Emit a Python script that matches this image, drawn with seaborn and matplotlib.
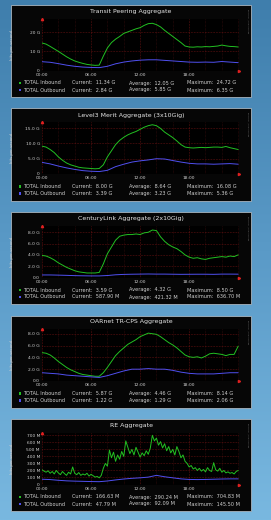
import numpy as np
import matplotlib.pyplot as plt
import seaborn as sns
from matplotlib.patches import Rectangle
from matplotlib.colors import LinearSegmentedColormap
from matplotlib.ticker import MultipleLocator

sns.set_style("dark")
plt.rcParams['font.family'] = ['DejaVu Sans']

W, H = 271, 520

# sample times (hours since midnight)
half = np.arange(0, 24.5, 0.5)
hour = np.arange(0, 25, 1.0)
quarter = np.arange(0, 24.25, 0.25)

titles = ["Transit Peering Aggregate",
          "Level3 Merit Aggregate (3x10Gig)",
          "CenturyLink Aggregate (2x10Gig)",
          "OARnet TR-CPS Aggregate",
          "RE Aggregate"]

transit_in = [14.4, 13.8, 12.6, 11.3, 10.0, 8.6, 7.2, 6.0, 5.0, 4.3,
              3.7, 3.2, 2.9, 2.7, 2.8, 7.5, 11.8, 14.6, 16.4, 17.8,
              19.4, 20.2, 21.0, 21.8, 22.4, 23.6, 24.5, 24.7, 24.0, 22.8,
              21.0, 19.4, 17.8, 16.2, 14.6, 12.8, 12.3, 12.2, 12.4, 12.3,
              12.5, 12.4, 12.6, 12.8, 13.3, 12.9, 12.6, 12.5, 12.3]
transit_out = [4.6, 4.3, 3.6, 2.8, 2.2, 1.8, 1.6, 1.5, 2.2, 3.5, 4.4, 5.0, 5.4,
               5.6, 5.6, 5.3, 5.0, 4.7, 4.4, 4.3, 4.4, 4.3, 4.7, 4.4, 4.1]

level3_in = [9.1, 8.8, 8.0, 7.0, 5.6, 4.5, 3.6, 3.0, 2.6, 2.2,
             2.0, 1.9, 1.8, 1.7, 1.8, 3.0, 5.6, 7.6, 9.6, 11.0,
             12.0, 12.8, 13.4, 13.9, 14.6, 15.3, 15.8, 16.1, 15.8, 14.9,
             13.7, 12.8, 11.9, 10.8, 9.6, 8.8, 8.6, 8.5, 8.6, 8.7,
             8.6, 8.7, 8.8, 8.8, 8.7, 9.0, 8.6, 8.3, 8.0]
level3_out = [3.8, 3.3, 2.6, 2.0, 1.5, 1.1, 0.9, 0.8, 1.2, 2.4, 3.2, 3.9, 4.3,
              4.6, 5.0, 4.9, 4.4, 3.9, 3.5, 3.3, 3.3, 3.2, 3.3, 3.4, 3.2]

century_in = [3.9, 3.8, 3.5, 3.1, 2.6, 2.2, 1.8, 1.5, 1.2, 1.0,
              0.9, 0.8, 0.8, 0.8, 0.9, 2.4, 4.2, 5.4, 6.6, 7.3,
              7.5, 7.6, 7.6, 7.7, 7.6, 7.9, 8.0, 8.4, 8.3, 7.2,
              6.4, 5.8, 5.4, 5.1, 4.6, 4.0, 3.6, 3.4, 3.5, 3.3,
              3.2, 3.4, 3.5, 3.6, 3.7, 3.6, 3.8, 3.7, 4.0]
century_out = [0.45, 0.45, 0.42, 0.38, 0.33, 0.30, 0.28, 0.28, 0.35, 0.48, 0.55, 0.58, 0.60,
               0.62, 0.60, 0.60, 0.58, 0.56, 0.57, 0.58, 0.58, 0.56, 0.60, 0.60, 0.59]

oarnet_in = [4.8, 4.7, 4.4, 3.9, 3.3, 2.8, 2.3, 1.9, 1.6, 1.3,
             1.1, 1.0, 0.9, 0.8, 0.8, 1.4, 2.3, 3.3, 4.3, 5.0,
             5.6, 6.2, 6.6, 7.0, 7.5, 7.8, 8.1, 8.0, 7.9, 7.5,
             7.0, 6.5, 6.1, 5.6, 5.0, 4.4, 4.1, 4.0, 4.1, 3.9,
             4.2, 4.6, 4.7, 4.6, 4.5, 4.3, 4.5, 4.5, 5.9]
oarnet_out = [1.4, 1.3, 1.2, 1.0, 0.9, 0.8, 0.7, 0.6, 0.9, 1.3, 1.7, 2.0, 2.0,
              2.1, 2.0, 2.0, 1.8, 1.5, 1.3, 1.2, 1.2, 1.2, 1.3, 1.4, 1.4]

re_in = [210, 190, 175, 195, 160, 185, 150, 200,
         165, 140, 185, 155, 130, 175, 150, 250,
         160, 140, 170, 130, 150, 135, 160, 120,
         145, 125, 105, 115, 95, 130, 230, 300,
         260, 490, 380, 460, 330, 420, 360, 470,
         400, 620, 530, 440, 500, 420, 530, 460,
         390, 450, 410, 480, 430, 520, 700, 620,
         660, 560, 610, 520, 580, 480, 540, 450,
         500, 420, 540, 470, 380, 420, 330, 300,
         250, 270, 220, 240, 200, 230, 190, 215,
         180, 240, 200, 185, 310, 210, 190, 230,
         175, 200, 165, 180, 160, 170, 150, 185,
         200]
re_out = [75, 70, 60, 52, 48, 45, 42, 40, 50, 65, 78, 88, 95,
          105, 130, 110, 95, 80, 72, 70, 72, 75, 78, 80, 80]

yticks = [[0, 10, 20], [0, 5, 10, 15], [0, 2, 4, 6, 8], [0, 2, 4, 6, 8],
          [0, 100, 200, 300, 400, 500, 600, 700]]
ytick_labels = [["0", "10 G", "20 G"],
                ["0", "5.0 G", "10.0 G", "15.0 G"],
                ["0.0", "2.0 G", "4.0 G", "6.0 G", "8.0 G"],
                ["0.0", "2.0 G", "4.0 G", "6.0 G", "8.0 G"],
                ["0", "100 M", "200 M", "300 M", "400 M", "500 M", "600 M", "700 M"]]
ytops = [27.2, 17.0, 9.2, 8.8, 740]
xtick_labels = ["00:00", "06:00", "12:00", "18:00"]

# legend stats: (current, average, maximum)
stats_in = [("11.34 G", "12.05 G", "24.72 G"), ("8.00 G", "8.64 G", "16.08 G"),
            ("3.59 G", "4.32 G", "8.50 G"), ("5.87 G", "4.46 G", "8.14 G"),
            ("166.63 M", "290.24 M", "704.83 M")]
stats_out = [("2.84 G", "5.85 G", "6.35 G"), ("3.39 G", "3.23 G", "5.36 G"),
             ("587.90 M", "421.32 M", "636.70 M"), ("1.22 G", "1.29 G", "2.06 G"),
             ("47.79 M", "92.09 M", "145.50 M")]

series_in = [transit_in, level3_in, century_in, oarnet_in, re_in]
series_out = [transit_out, level3_out, century_out, oarnet_out, re_out]
times_in = [half, half, half, half, quarter]

green, blue = "#22c022", "#5050f0"
txt = "#d0d0d0"

fig = plt.figure(figsize=(W / 100, H / 100), dpi=100)

# blue gradient backdrop
bg = fig.add_axes([0, 0, 1, 1], zorder=-1)
cmap = LinearSegmentedColormap.from_list("bg", ["#3f7eac", "#5b9bc8", "#79b8e0"])
bg.imshow(np.linspace(0, 1, 256).reshape(-1, 1), aspect="auto", cmap=cmap, extent=[0, 1, 0, 1])
bg.axis("off")


def fx(px):
    return px / W


def fy(py):
    return 1 - py / H


for i in range(5):
    top = 5 + i * 103.5

    fig.patches.append(Rectangle((fx(11), fy(top + 92)), 240 / W, 92 / H, transform=fig.transFigure,
                                 facecolor="#060606", edgecolor="#a8b4be", linewidth=0.6, zorder=1))

    ax = fig.add_axes([fx(42), fy(top + 65.5), 197 / W, 52 / H])
    ax.set_zorder(2)
    ax.set_facecolor("black")
    sns.lineplot(x=times_in[i], y=series_in[i], ax=ax, color=green, linewidth=0.7)
    sns.lineplot(x=hour, y=series_out[i], ax=ax, color=blue, linewidth=0.7)

    ax.set_xlim(0, 24.1)
    ax.set_ylim(0, ytops[i])
    ax.set_xticks([0, 6, 12, 18])
    ax.set_xticklabels(xtick_labels)
    ax.xaxis.set_minor_locator(MultipleLocator(2))
    ax.set_yticks(yticks[i])
    ax.set_yticklabels(ytick_labels[i])
    ax.tick_params(which="both", length=0, labelsize=3.2, colors=txt, pad=1.5)
    ax.grid(which="major", color="#8c1818", linestyle=(0, (1, 1.5)), linewidth=0.45)
    ax.grid(which="minor", axis="x", color="#4c1212", linestyle=(0, (1, 1.5)), linewidth=0.4)
    for s in ax.spines.values():
        s.set_visible(False)
    ax.set_ylabel("bits per second", fontsize=2.8, color=txt)
    ax.yaxis.set_label_coords(-0.14, 0.5)
    # rrdtool style arrow heads
    ax.plot([1.0], [0.0], marker=">", markersize=1.6, color="#e02020", transform=ax.transAxes, clip_on=False)
    ax.plot([0.0], [1.0], marker="^", markersize=1.6, color="#e02020", transform=ax.transAxes, clip_on=False)

    fig.text(fx(131), fy(top + 6.5), titles[i], ha="center", va="center", fontsize=4.5, color="#e6e6e6")
    fig.text(fx(247.5), fy(top + 4), "RRDTOOL / TOBI OETIKER", rotation=270, ha="center", va="top",
             fontsize=1.4, color="#707070")

    for row, (name, col, st) in enumerate([("TOTAL Inbound", green, stats_in[i]),
                                           ("TOTAL Outbound", blue, stats_out[i])]):
        yy = top + 78 + row * 7
        fig.patches.append(Rectangle((fx(18.5), fy(yy + 1.4)), 2.6 / W, 2.8 / H, transform=fig.transFigure,
                                     facecolor=col, edgecolor="none", zorder=3))
        fig.text(fx(23), fy(yy), name, va="center", fontsize=3.6, color=txt)
        fig.text(fx(72), fy(yy), "Current:  " + st[0], va="center", fontsize=3.6, color=txt)
        fig.text(fx(129), fy(yy), "Average:  " + st[1], va="center", fontsize=3.6, color=txt)
        fig.text(fx(187), fy(yy), "Maximum:  " + st[2], va="center", fontsize=3.6, color=txt)

fig.savefig("out.png", dpi=100)
